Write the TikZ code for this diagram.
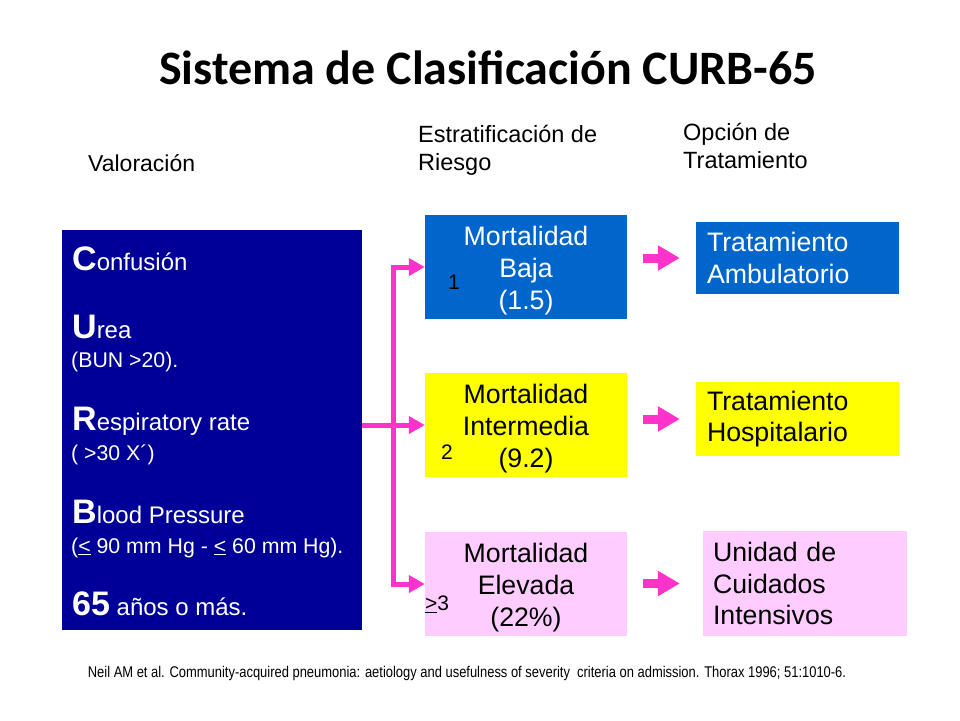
\documentclass[tikz,border=0pt]{standalone}
\usepackage{fontspec}
\setmainfont{Liberation Sans}
\newfontfamily\titlefont{Carlito}
\newfontfamily\narrowfont[FakeStretch=0.835]{Liberation Sans}
\usetikzlibrary{arrows.meta}
\definecolor{navy}{HTML}{000099}
\definecolor{boxblue}{HTML}{0066CC}
\definecolor{boxyellow}{HTML}{FFFF00}
\definecolor{boxpink}{HTML}{FFCCFF}
\definecolor{arrpink}{HTML}{FF33CC}
\newcommand\capletter[1]{{\fontsize{34}{34}\selectfont\bfseries #1}}
\newcommand\wordsize{\fontsize{24}{28}\selectfont}
\newcommand\subsize{\fontsize{21.3}{26}\selectfont}
\newcommand\topstrut{\rule{0pt}{27.5pt}}
\begin{document}
\begin{tikzpicture}[x=1pt,y=-1pt,
  header/.style={font=\fontsize{23.5}{28}\selectfont, align=left, inner sep=0pt, anchor=west},
  riskbox/.style={minimum width=202pt, minimum height=104pt, inner sep=0pt, align=center,
     font=\fontsize{26.7}{32}\selectfont},
  treatbox/.style={inner xsep=11pt, inner ysep=0pt, text width=181pt, align=left,
     font=\fontsize{26.7}{31.5}\selectfont},
  valtext/.style={anchor=base west, inner sep=0pt, text=white, font=\wordsize},
  numlabel/.style={inner sep=0pt, font=\fontsize{21}{24}\selectfont},
  pinkline/.style={draw=arrpink, line width=5pt, line join=miter},
  blockarrow/.style={draw=arrpink, line width=9pt, -{Triangle[length=22pt,width=24pt]}}
]
\useasboundingbox (0,0) rectangle (960,720);
\fill[white] (0,0) rectangle (960,720);

% title
\node[font=\titlefont\bfseries\fontsize{48}{56}\selectfont, inner sep=0pt] (title) at (488,68) {Sistema de Clasificación CURB-65};

% column headers
\node[header, font=\fontsize{23}{28}\selectfont] (h1) at (88,163) {Valoración};
\node[header] (h2) at (418,150) {Estratificación de\\Riesgo};
\node[header] (h3) at (683,146) {Opción de\\Tratamiento};

% left assessment box
\node[fill=navy, minimum width=300pt, minimum height=400pt, inner sep=0pt] (val) at (212,430) {};
\node[valtext] (t1) at (72,270) {\capletter{C}onfusión};
\node[valtext] (t2) at (72,338) {\capletter{U}rea};
\node[valtext, font=\subsize] (t3) at (71,367) {(BUN >20).};
\node[valtext] (t4) at (72,430) {\capletter{R}espiratory rate};
\node[valtext, font=\subsize] (t5) at (71,460) {( >30 X´)};
\node[valtext] (t6) at (72,523) {\capletter{B}lood Pressure};
\node[valtext, font=\subsize] (t7) at (71,553) {(\underline{<} 90 mm Hg - \underline{<} 60 mm Hg).};
\node[valtext] (t8) at (72,615) {\capletter{65} años o más.};

% risk boxes
\node[riskbox, fill=boxblue, text=white] (baja) at (526,267) {\topstrut Mortalidad\\Baja\\(1.5)};
\node[riskbox, fill=boxyellow] (inter) at (526,425) {\topstrut Mortalidad\\Intermedia\\(9.2)};
\node[riskbox, fill=boxpink] (elev) at (526,584) {\topstrut Mortalidad\\Elevada\\(22\%)};

\node[numlabel] (n1) at (454,282) {1};
\node[numlabel] (n2) at (447,452) {2};
\node[numlabel, anchor=west] (n3) at (425,604) {\underline{>}3};

% treatment boxes
\node[treatbox, fill=boxblue, text=white, minimum height=72pt] (amb) at (797.5,258) {Tratamiento\\Ambulatorio};
\node[treatbox, fill=boxyellow, minimum height=74pt] (hosp) at (797.5,419) {Tratamiento\\Hospitalario};
\node[treatbox, inner xsep=10pt, text width=184pt, fill=boxpink, minimum height=105pt] (uci) at (805,583.5) {Unidad de\\Cuidados\\Intensivos};

% connectors
\coordinate (sp) at ([xshift=31pt]val.east);
\draw[pinkline, -{Triangle[length=16pt,width=17pt]}] (val.east |- inter.west) -- (inter.west);
\draw[pinkline, {Triangle[length=16pt,width=17pt]}-{Triangle[length=16pt,width=17pt]}]
   (baja.west) -- (sp |- baja.west) -- (sp |- elev.west) -- (elev.west);

\draw[blockarrow] ([xshift=16pt]baja.east |- amb.west) -- ([xshift=-16pt]amb.west);
\draw[blockarrow] ([xshift=16pt]inter.east |- hosp.west) -- ([xshift=-16pt]hosp.west);
\draw[blockarrow] ([xshift=16pt]elev.east |- uci.west) -- ([xshift=-23pt]uci.west);

% footer
\node[font=\narrowfont\fontsize{15.5}{18}\selectfont, inner sep=0pt] (ref) at (467,673) {Neil AM et al. Community-acquired pneumonia: aetiology and usefulness of severity\ \ criteria on admission. Thorax 1996; 51:1010-6.};
\end{tikzpicture}
\end{document}
